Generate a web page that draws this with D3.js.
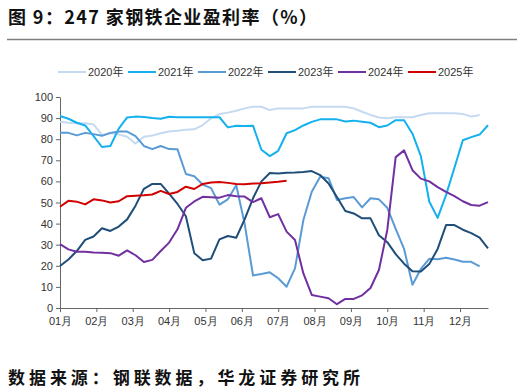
<!DOCTYPE html>
<html><head><meta charset="utf-8">
<script src="https://cdn.jsdelivr.net/npm/d3@7"></script>
<style>
html,body{margin:0;padding:0;background:#fff;}
svg{display:block;}
</style></head>
<body>
<script>
const seriesNames = ["2020年","2021年","2022年","2023年","2024年","2025年"];
const seriesColors = ["#C5DAF0","#14B1EE","#5A9BD5","#1F4E79","#7030A0","#D00000"];
const monthLabels = ["01月","02月","03月","04月","05月","06月","07月","08月","09月","10月","11月","12月"];
const yTicks = [0,10,20,30,40,50,60,70,80,90,100];

const v2020 = [88.3,87.8,87.5,87.6,87,82,82.8,82.3,81.2,78,81.2,81.7,82.8,83.6,84,84.5,84.7,86.7,89.9,91.9,92.6,93.5,94.6,95.4,95.4,93.8,94.6,94.6,94.6,94.6,95.4,95.4,95.4,95.4,95.4,94.6,93,91.5,90.3,89.9,90.4,90.4,90.4,91.5,92.3,92.3,92.3,92.3,92,90.7,91.5];
const v2021 = [91,89.7,87.8,86.5,81.5,76.3,76.8,85,90.3,90.7,90.5,90,89.7,90.6,90.4,90.4,90.4,90.4,90.4,90.4,85.6,86.4,86.3,86.4,75,72,74.5,82.8,84.3,86.5,88.2,89.4,89.4,89.4,88.4,88.8,88.3,87.8,85.7,86.5,89,89,82.6,72,50.5,42.7,53.5,66.5,79.5,81,82.2,86.6];
const v2022 = [83.1,83,81.8,83,82.4,81.6,83,83.6,83.6,81.5,76.8,75.3,76.8,75.3,75.2,63.5,62.4,58.5,56.8,49,51.5,58.2,40,15.4,16.1,16.9,14.1,10.1,18.8,41.7,55.1,62.2,61.5,51.2,52,52.6,47.7,52,51.5,47.5,37.5,28,11,18.5,23.3,23.1,23.8,23,21.9,21.9,19.7];
const v2023 = [19.9,23,27,32.3,33.9,37.8,36.5,38.6,42,48.5,56.5,58.8,58.8,54.2,49.3,43.5,26,22.6,23.4,32.5,34.1,33.3,42,52,60,64,63.8,64.1,64.2,64.5,64.9,63,59,52.6,46,44.8,42.5,42.5,34.5,31.2,25.5,21,17.4,17.3,20.8,28,39.3,39.3,37.1,35.5,33.4,28.3];
const v2024 = [30.3,27.8,26.7,26.7,26.3,26.2,26,24.8,27.3,25,21.8,22.8,27,31,37.3,47.5,50.5,52.7,52.5,52.3,53.5,53,52.8,50.2,52,43,44.5,36.2,32.2,16.4,6.2,5.4,4.6,1.8,4.3,4.3,6,9.5,18,37,71.5,74.7,65.3,61.3,60,57.3,55,53,50.6,48.8,48.5,50.2];
const v2025 = [48,50.8,50.4,49.1,51.5,51,50,50.6,53,53.2,53.4,53.8,55.5,54,55,57.5,56.4,58.8,59.5,59.7,59.3,58.8,58.7,59,59.1,59.5,59.8,60.3];

const allSeries = [v2020,v2021,v2022,v2023,v2024,v2025];
const W = 527, H = 392;
const WEEKS = 52;

const svg = d3.select("body").append("svg").attr("width",W).attr("height",H);

const cjk = "'Noto Sans CJK SC','Noto Sans',sans-serif";

// Title
svg.append("text").attr("x",8).attr("y",24)
  .attr("font-family",cjk)
  .attr("font-weight","bold").attr("font-size",18).attr("fill","#111")
  .attr("textLength",309).attr("lengthAdjust","spacing")
  .text("图 9：247 家钢铁企业盈利率（%）");
svg.append("line").attr("x1",7).attr("x2",517).attr("y1",39.5).attr("y2",39.5)
  .attr("stroke","#7f7f7f").attr("stroke-width",1.5);

// Source
svg.append("text").attr("x",8).attr("y",384)
  .attr("font-family",cjk)
  .attr("font-weight","bold").attr("font-size",17).attr("fill","#111")
  .attr("textLength",352).attr("lengthAdjust","spacing")
  .text("数据来源：钢联数据，华龙证券研究所");

const x = d3.scaleLinear().domain([0, WEEKS-1]).range([60, 488]);
const y = d3.scaleLinear().domain([0, 100]).range([308, 97]);

const axisFont = "'Liberation Sans',Arial,sans-serif";

// Y axis
const gy = svg.append("g").attr("transform","translate(60,0)")
  .call(d3.axisLeft(y).tickValues(yTicks).tickSize(4).tickSizeOuter(0).tickPadding(3));
gy.selectAll("text").attr("font-family",axisFont).attr("font-size",11).attr("fill","#333");
gy.selectAll("line,path").attr("stroke","#666");

// X axis
const monthPos = monthLabels.map((m,i)=> i*WEEKS/12);
const gx = svg.append("g").attr("transform","translate(0,308)")
  .call(d3.axisBottom(x).tickValues(monthPos).tickFormat((d,i)=>monthLabels[i]).tickSize(4).tickSizeOuter(0).tickPadding(5));
gx.selectAll("text").attr("font-family",axisFont).attr("font-size",11).attr("fill","#333");
gx.selectAll("line,path").attr("stroke","#666");

// Lines
const line = d3.line().x((d,i)=>x(i)).y(d=>y(d));
allSeries.forEach((s,k)=>{
  svg.append("path").datum(s).attr("d",line)
    .attr("fill","none").attr("stroke",seriesColors[k]).attr("stroke-width",2)
    .attr("stroke-linejoin","round");
});

// Legend
const legend = svg.append("g");
seriesNames.forEach((n,k)=>{
  const lx = 58 + k*70;
  legend.append("line").attr("x1",lx).attr("x2",lx+28).attr("y1",72).attr("y2",72)
    .attr("stroke",seriesColors[k]).attr("stroke-width",2);
  legend.append("text").attr("x",lx+30).attr("y",76)
    .attr("font-family","'Liberation Sans','Noto Sans CJK SC',sans-serif").attr("font-size",11).attr("fill","#333")
    .text(n);
});
</script>
</body></html>
